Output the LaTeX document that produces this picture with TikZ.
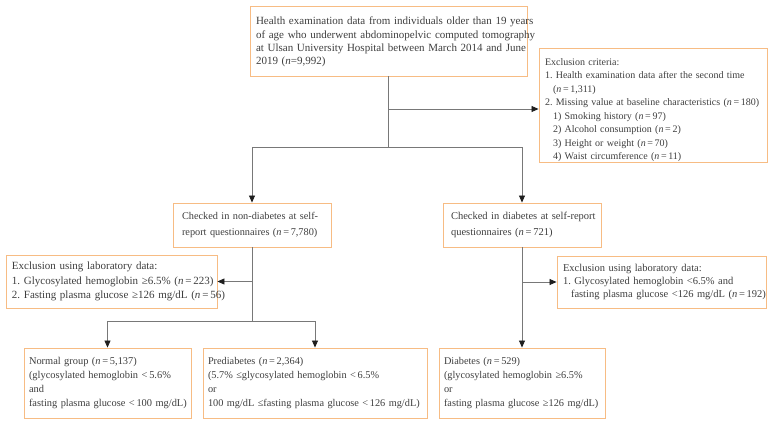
\documentclass[tikz,border=0pt]{standalone}
\usepackage{fontspec}
\setmainfont{Liberation Serif}
\usetikzlibrary{arrows.meta}
\definecolor{boxc}{RGB}{247,188,132}
\definecolor{txtc}{RGB}{62,62,62}
\definecolor{linec}{RGB}{120,120,120}
\definecolor{tipc}{RGB}{30,30,30}
\newcommand{\nn}{\textit{n}}
\frenchspacing
\begin{document}
\begin{tikzpicture}[x=1pt,y=-1pt,
  fbox/.style={draw=boxc, line width=0.9pt, text=txtc, align=left, inner ysep=1pt,
    font=\fontsize{11}{13.3}\selectfont},
  conn/.style={draw=linec, line width=0.8pt},
  arr/.style={conn, -{Triangle[length=7pt,width=6pt,color=tipc]}}]
\useasboundingbox (0,0) rectangle (774,425);
\node[fbox, text width=265pt, inner xsep=6pt, minimum height=70pt] (top) at (388.5,41)
 {\rule{0pt}{10pt}\mbox{Health examination data from individuals older than 19 years}\\
  \mbox{of age who underwent abdominopelvic computed tomography}\\
  \mbox{at Ulsan University Hospital between March 2014 and June}\\
  2019 (\nn=9,992)};
\node[fbox, text width=216pt, inner xsep=6pt, minimum height=111pt,
  font=\fontsize{10}{13.5}\selectfont] (crit) at (653,105.5)
 {\rule{0pt}{16pt}Exclusion criteria:\\
  \mbox{1. Health examination data after the second time}\\
  \hspace*{8pt}(\nn\,=\,1,311)\\
  \mbox{2. Missing value at baseline characteristics (\nn\,=\,180)}\\
  \hspace*{8pt}1) Smoking history (\nn\,=\,97)\\
  \hspace*{8pt}2) Alcohol consumption (\nn\,=\,2)\\
  \hspace*{8pt}3) Height or weight (\nn\,=\,70)\\
  \hspace*{8pt}4) Waist circumference (\nn\,=\,11)};
\node[fbox, text width=140pt, inner xsep=9pt, minimum height=44pt,
  font=\fontsize{10.3}{15.5}\selectfont] (nondiab) at (252,225)
 {\mbox{Checked in non-diabetes at self-}\\
  \mbox{report questionnaires (\nn\,=\,7,780)}};
\node[fbox, text width=142pt, inner xsep=8pt, minimum height=44pt,
  font=\fontsize{10.5}{15.5}\selectfont] (diab) at (522,225)
 {\mbox{Checked in diabetes at self-report}\\
  questionnaires (\nn\,=\,721)};
\node[fbox, text width=199pt, inner xsep=6pt, minimum height=53pt,
  font=\fontsize{11}{14.7}\selectfont] (lexcl) at (111.5,281.5)
 {Exclusion using laboratory data:\\
  \mbox{1. Glycosylated hemoglobin ≥6.5\% (\nn\,=\,223)}\\
  \mbox{2. Fasting plasma glucose ≥126 mg/dL (\nn\,=\,56)}};
\node[fbox, text width=197pt, inner xsep=6pt, minimum height=52pt,
  font=\fontsize{10.5}{13}\selectfont] (rexcl) at (661.5,282)
 {Exclusion using laboratory data:\\
  \mbox{1. Glycosylated hemoglobin <6.5\% and}\\
  \hspace*{8pt}\mbox{fasting plasma glucose <126 mg/dL (\nn\,=\,192)}};
\node[fbox, text width=157pt, inner xsep=5pt, minimum height=70pt,
  font=\fontsize{10.4}{13.8}\selectfont] (normal) at (107.5,383)
 {Normal group (\nn\,=\,5,137)\\
  \mbox{(glycosylated hemoglobin <\,5.6\%}\\
  and\\
  \mbox{fasting plasma glucose <\,100 mg/dL)}};
\node[fbox, text width=214pt, inner xsep=5pt, minimum height=70pt,
  font=\fontsize{10.3}{13.8}\selectfont] (prediab) at (315,383)
 {Prediabetes (\nn\,=\,2,364)\\
  \mbox{(5.7\% ≤glycosylated hemoglobin <\,6.5\%}\\
  or\\
  \mbox{100 mg/dL ≤fasting plasma glucose <\,126 mg/dL)}};
\node[fbox, text width=156pt, inner xsep=5pt, minimum height=70pt,
  font=\fontsize{10.3}{13.8}\selectfont] (diabetes) at (522,383)
 {Diabetes (\nn\,=\,529)\\
  \mbox{(glycosylated hemoglobin ≥6.5\%}\\
  or\\
  \mbox{fasting plasma glucose ≥126 mg/dL)}};
\coordinate (sp1) at (388.5,147);
\coordinate (sp2) at (252,321);
\draw[conn] (top.south) -- (sp1);
\draw[arr] (top.south |- 0,109) -- (crit.west |- 0,109);
\draw[arr] (sp1) -| (nondiab.north);
\draw[arr] (sp1) -| (diab.north);
\draw[conn] (nondiab.south) -- (sp2);
\draw[arr] (nondiab.south |- lexcl.east) -- (lexcl.east);
\draw[arr] (sp2) -| (normal.north);
\draw[arr] (sp2) -| (prediab.north);
\draw[arr] (diab.south) -- (diabetes.north);
\draw[arr] (diab.south |- rexcl.west) -- (rexcl.west);
\end{tikzpicture}
\end{document}
